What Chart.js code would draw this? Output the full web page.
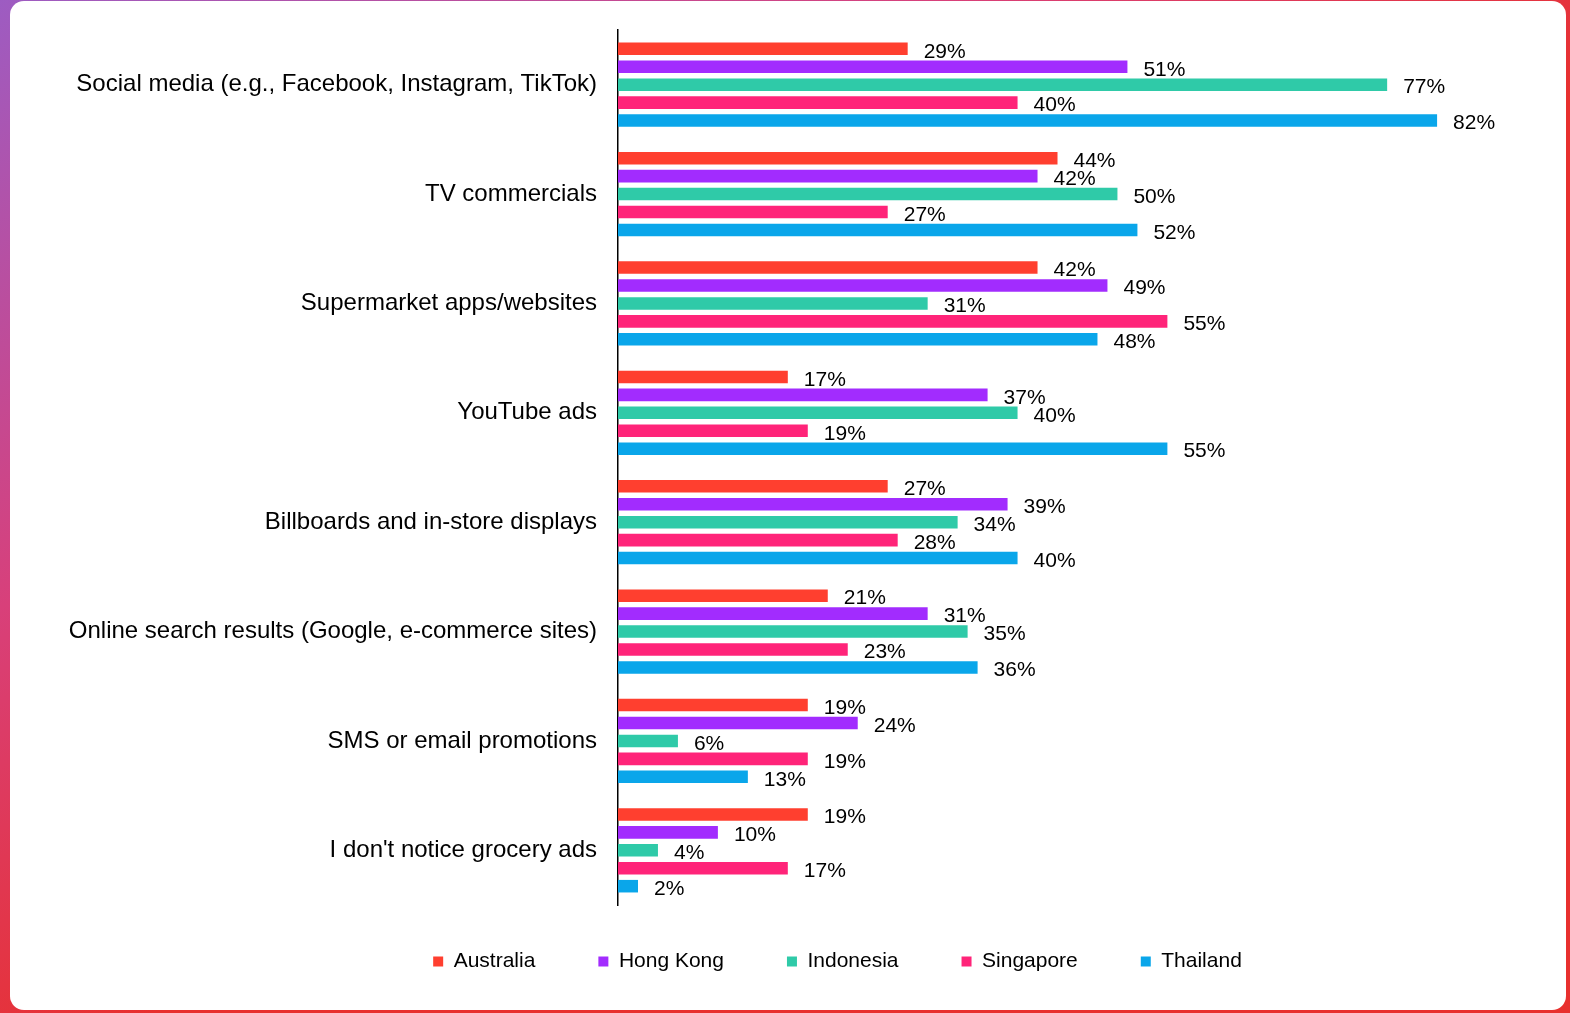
<!DOCTYPE html>
<html>
<head>
<meta charset="utf-8">
<script src="https://cdn.jsdelivr.net/npm/chart.js@4.4.1/dist/chart.umd.min.js"></script>
<style>
  html, body { margin: 0; padding: 0; width: 1570px; height: 1013px; overflow: hidden; }
  body { background: linear-gradient(to bottom right, #9d5cc2 0%, #d8407a 30%, #e8302e 55%, #e8302e 100%); position: relative; }
  #panel { position: absolute; left: 10px; top: 1px; width: 1556px; height: 1009px; background: #fff; border-radius: 14px; }
  #wrap { position: absolute; left: 0; top: 0; width: 1570px; height: 1013px; }
</style>
</head>
<body>
<div id="panel"></div>
<div id="wrap"><canvas id="c" width="1570" height="1013"></canvas></div>
<script>
const categories = [
  "Social media (e.g., Facebook, Instagram, TikTok)",
  "TV commercials",
  "Supermarket apps/websites",
  "YouTube ads",
  "Billboards and in-store displays",
  "Online search results (Google, e-commerce sites)",
  "SMS or email promotions",
  "I don't notice grocery ads"
];
const seriesNames = ["Australia", "Hong Kong", "Indonesia", "Singapore", "Thailand"];
const australia = [29, 44, 42, 17, 27, 21, 19, 19];
const hongKong  = [51, 42, 49, 37, 39, 31, 24, 10];
const indonesia = [77, 50, 31, 40, 34, 35, 6, 4];
const singapore = [40, 27, 55, 19, 28, 23, 19, 17];
const thailand  = [82, 52, 48, 55, 40, 36, 13, 2];
const seriesColors = ["#ff3f2f", "#a22cfe", "#2fcaa8", "#ff2479", "#0aa6ea"];

const seriesValues = [australia, hongKong, indonesia, singapore, thailand];

const valueLabels = {
  id: 'valueLabels',
  afterDatasetsDraw(chart) {
    const ctx = chart.ctx;
    ctx.save();
    ctx.font = '21px "Liberation Sans", Arial, sans-serif';
    ctx.fillStyle = '#000';
    ctx.textAlign = 'left';
    ctx.textBaseline = 'middle';
    chart.data.datasets.forEach((ds, i) => {
      const meta = chart.getDatasetMeta(i);
      meta.data.forEach((bar, j) => {
        ctx.fillText(ds.data[j] + '%', bar.x + 16, bar.y + 3);
      });
    });
    ctx.restore();
  }
};

const legendShift = {
  id: 'legendShift',
  afterLayout(chart) {
    const lg = chart.legend;
    if (!lg) return;
    lg.left += 79; lg.right += 79;
    lg.top -= 17; lg.bottom -= 17;
  }
};

new Chart(document.getElementById('c'), {
  type: 'bar',
  data: {
    labels: categories,
    datasets: seriesNames.map((n, i) => ({
      label: n,
      data: seriesValues[i],
      backgroundColor: seriesColors[i],
      borderWidth: 0,
      categoryPercentage: 0.82,
      barPercentage: 0.7
    }))
  },
  options: {
    indexAxis: 'y',
    responsive: false,
    animation: false,
    layout: { padding: { top: 30, right: 53, left: 0, bottom: 14 } },
    scales: {
      x: { display: false, min: 0, max: 90 },
      y: {
        grid: { display: false },
        border: { display: true, color: '#000', width: 1.5 },
        ticks: {
          color: '#000',
          padding: 13,
          font: { family: '"Liberation Sans", Arial, sans-serif', size: 24 }
        },
        afterFit(scale) { scale.width = 618; }
      }
    },
    plugins: {
      tooltip: { enabled: false },
      legend: {
        position: 'bottom',
        labels: {
          color: '#000',
          boxWidth: 10,
          boxHeight: 10,
          padding: 63,
          font: { family: '"Liberation Sans", Arial, sans-serif', size: 21 }
        }
      }
    }
  },
  plugins: [valueLabels, legendShift]
});
</script>
</body>
</html>
